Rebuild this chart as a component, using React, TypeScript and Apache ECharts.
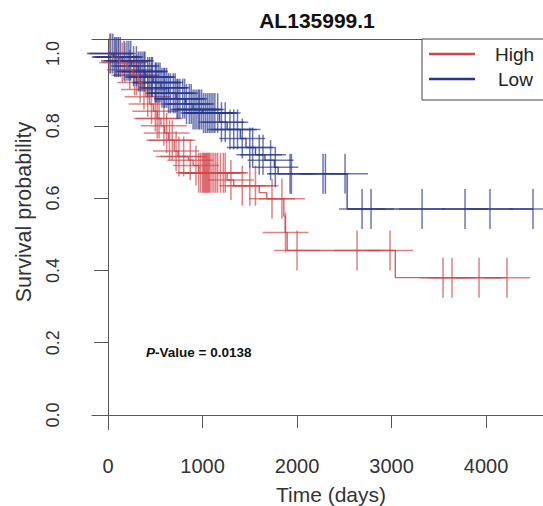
import React, { useEffect, useRef } from "react";
import * as echarts from "echarts";

const title = "AL135999.1";
const xTicks = [0, 1000, 2000, 3000, 4000];
const yTicks = [0, 0.2, 0.4, 0.6, 0.8, 1.0];

const highEventTimes = [40, 120, 200, 260, 320, 360, 400, 440, 480, 520, 560, 600, 640, 700, 740, 850, 900, 960, 1260, 1330, 1600, 1680, 1860, 1875, 1895, 3040];
const highEventSurv = [0.99, 0.975, 0.955, 0.94, 0.92, 0.9, 0.88, 0.86, 0.84, 0.82, 0.8, 0.78, 0.76, 0.73, 0.715, 0.705, 0.69, 0.67, 0.65, 0.634, 0.615, 0.598, 0.55, 0.505, 0.455, 0.38];
const highCensorTimes = [30, 80, 110, 150, 180, 230, 280, 300, 340, 380, 420, 460, 500, 520, 540, 590, 620, 650, 680, 720, 750, 800, 870, 930, 960, 980, 1000, 1010, 1020, 1030, 1040, 1050, 1060, 1070, 1080, 1100, 1120, 1140, 1160, 1190, 1220, 1240, 1300, 1420, 1500, 1560, 1735, 1840, 1878, 2000, 2635, 2984, 3545, 3640, 3926, 4222];

const lowEventTimes = [60, 150, 250, 320, 400, 480, 560, 640, 720, 820, 900, 1000, 1180, 1260, 1400, 1460, 1560, 1660, 1760, 1800, 2530];
const lowEventSurv = [0.99, 0.98, 0.965, 0.95, 0.935, 0.92, 0.905, 0.89, 0.875, 0.86, 0.845, 0.835, 0.81, 0.79, 0.765, 0.74, 0.72, 0.705, 0.685, 0.667, 0.57];
const lowCensorTimes = [20, 50, 70, 90, 110, 130, 170, 200, 220, 240, 270, 300, 320, 340, 360, 380, 390, 420, 440, 460, 470, 500, 510, 530, 550, 570, 590, 600, 620, 640, 660, 690, 710, 730, 740, 760, 790, 810, 830, 860, 880, 900, 920, 940, 960, 970, 990, 1010, 1030, 1050, 1070, 1090, 1110, 1130, 1160, 1200, 1240, 1290, 1330, 1370, 1420, 1500, 1530, 1600, 1640, 1720, 1770, 1926, 1940, 2275, 2300, 2508, 2688, 2783, 3323, 3778, 4042, 4497];

const groupNames = ["High", "Low"];
const pValue = "0.0138";

const RED = "#d0474b";
const BLUE = "#26378f";

function survAt(times: number[], surv: number[], t: number) {
  let s = 1;
  for (let i = 0; i < times.length; i++) {
    if (times[i] <= t) s = surv[i];
  }
  return s;
}

function stepPoints(times: number[], surv: number[], end: number) {
  const pts: number[][] = [[0, 1]];
  let prev = 1;
  for (let i = 0; i < times.length; i++) {
    pts.push([times[i], prev]);
    pts.push([times[i], surv[i]]);
    prev = surv[i];
  }
  pts.push([end, prev]);
  return pts;
}

function censorPoints(times: number[], surv: number[], censors: number[]) {
  return censors.map((t) => [t, survAt(times, surv, t)]);
}

function censorSeries(name: string, data: number[][], color: string) {
  return {
    type: "custom",
    name,
    data,
    z: 3,
    renderItem: (_p: any, api: any) => {
      const c = api.coord([api.value(0), api.value(1)]);
      const st = { stroke: color, lineWidth: 1.5, opacity: 0.68 };
      return {
        type: "group",
        children: [
          { type: "line", shape: { x1: c[0], y1: c[1] - 20, x2: c[0], y2: c[1] + 20 }, style: st },
          { type: "line", shape: { x1: c[0] - 23, y1: c[1], x2: c[0] + 23, y2: c[1] }, style: st },
        ],
      };
    },
  };
}

export default function App() {
  const ref = useRef<HTMLDivElement>(null);
  useEffect(() => {
    if (!ref.current) return;
    const chart = echarts.init(ref.current, undefined, { renderer: "svg" });
    const highEnd = highCensorTimes[highCensorTimes.length - 1];
    const lowEnd = lowCensorTimes[lowCensorTimes.length - 1];
    const font = "'Liberation Sans', Arial, sans-serif";
    const axisColor = "#555";
    chart.setOption({
      animation: false,
      textStyle: { fontFamily: font },
      grid: { left: 92, top: 39, bottom: 76.5, right: 0, show: false },
      xAxis: [
        {
          type: "value",
          min: -170,
          max: 4603,
          splitLine: { show: false },
          axisLine: { show: true, lineStyle: { color: axisColor } },
          axisTick: { show: true, length: 13, customValues: xTicks, lineStyle: { color: axisColor } },
          axisLabel: { customValues: xTicks, margin: 26, fontSize: 20, color: "#333", fontFamily: font, formatter: (v: number) => String(v) },
        },
        {
          type: "value",
          position: "top",
          min: -170,
          max: 4603,
          splitLine: { show: false },
          axisLine: { show: true, lineStyle: { color: axisColor } },
          axisTick: { show: false },
          axisLabel: { show: false },
        },
      ],
      yAxis: {
        type: "value",
        min: -0.04,
        max: 1.04,
        splitLine: { show: false },
        axisLine: { show: true, lineStyle: { color: axisColor } },
        axisTick: { show: true, length: 14, customValues: yTicks, lineStyle: { color: axisColor } },
        axisLabel: {
          customValues: yTicks,
          rotate: 90,
          margin: 30,
          fontSize: 18,
          color: "#333",
          fontFamily: font,
          formatter: (v: number) => v.toFixed(1),
        },
      },
      series: [
        {
          type: "line",
          name: groupNames[0],
          data: stepPoints(highEventTimes, highEventSurv, highEnd),
          symbol: "none",
          clip: false,
          lineStyle: { color: RED, width: 1.4, opacity: 0.85 },
        },
        {
          type: "line",
          name: groupNames[1],
          data: stepPoints(lowEventTimes, lowEventSurv, lowEnd),
          symbol: "none",
          clip: false,
          lineStyle: { color: BLUE, width: 1.4, opacity: 0.85 },
        },
        censorSeries(groupNames[0] + " censored", censorPoints(highEventTimes, highEventSurv, highCensorTimes), RED),
        censorSeries(groupNames[1] + " censored", censorPoints(lowEventTimes, lowEventSurv, lowCensorTimes), BLUE),
      ],
      graphic: [
        {
          type: "text",
          x: 317,
          y: 20,
          style: { text: title, font: `bold 21px ${font}`, fill: "#111", align: "center", verticalAlign: "middle" },
        },
        {
          type: "text",
          x: 331,
          y: 494,
          style: { text: "Time (days)", font: `21px ${font}`, fill: "#333", align: "center", verticalAlign: "middle" },
        },
        {
          type: "text",
          x: 24,
          y: 212,
          rotation: Math.PI / 2,
          style: { text: "Survival probability", font: `21.5px ${font}`, fill: "#333", align: "center", verticalAlign: "middle" },
        },
        {
          type: "text",
          x: 146,
          y: 352,
          style: {
            text: "{i|P}{b|-Value = " + pValue + "}",
            verticalAlign: "middle",
            rich: {
              i: { font: `italic bold 13.5px ${font}`, fill: "#111" },
              b: { font: `bold 13.5px ${font}`, fill: "#111" },
            },
          },
        },
        {
          type: "rect",
          shape: { x: 422, y: 39, width: 140, height: 61 },
          style: { fill: "#fff", stroke: "#444", lineWidth: 1 },
          z: 10,
        },
        { type: "line", shape: { x1: 429, y1: 54, x2: 475, y2: 54 }, style: { stroke: RED, lineWidth: 2.5 }, z: 11 },
        { type: "line", shape: { x1: 429, y1: 79, x2: 475, y2: 79 }, style: { stroke: BLUE, lineWidth: 2.5 }, z: 11 },
        {
          type: "text",
          x: 495,
          y: 54,
          z: 11,
          style: { text: groupNames[0], font: `19px ${font}`, fill: "#222", verticalAlign: "middle" },
        },
        {
          type: "text",
          x: 498,
          y: 79,
          z: 11,
          style: { text: groupNames[1], font: `19px ${font}`, fill: "#222", verticalAlign: "middle" },
        },
      ],
    });
    return () => chart.dispose();
  }, []);
  return <div ref={ref} style={{ position: "fixed", left: 0, top: 0, width: 543, height: 506, background: "#fff" }} />;
}
